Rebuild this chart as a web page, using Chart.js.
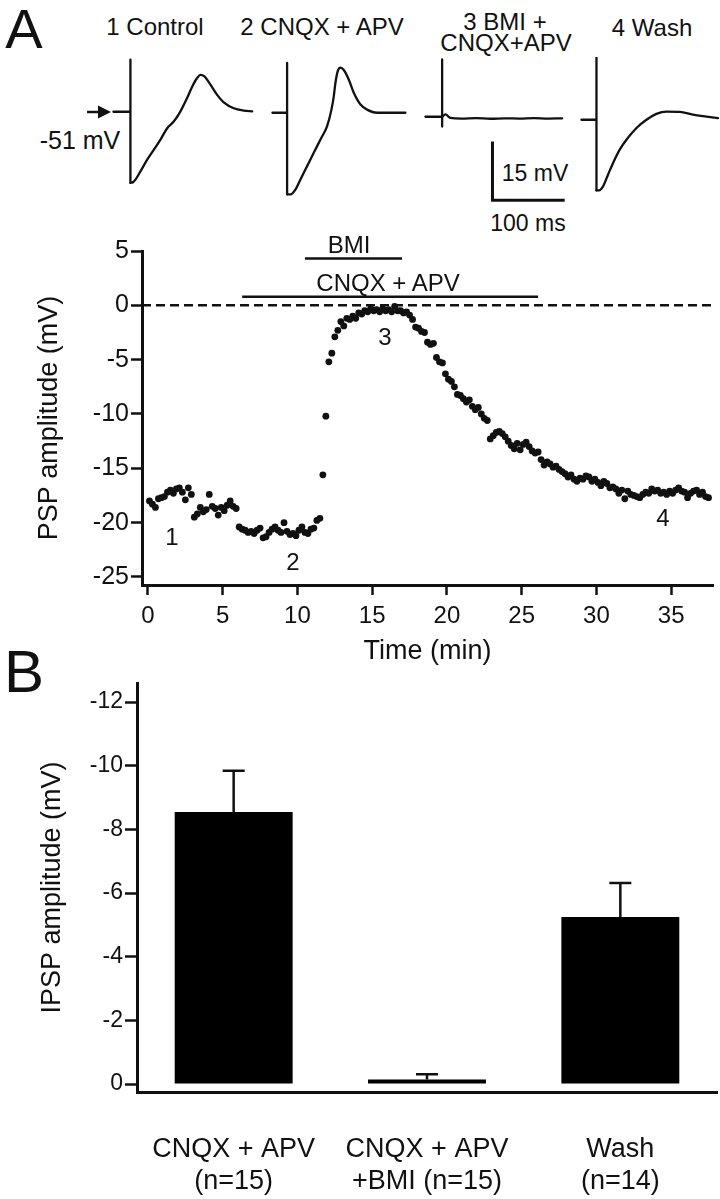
<!DOCTYPE html>
<html>
<head>
<meta charset="utf-8">
<script src="https://cdn.jsdelivr.net/npm/chart.js@4.4.0/dist/chart.umd.min.js"></script>
<style>
  html, body { margin: 0; padding: 0; background: #fff; }
  #fig { position: relative; width: 720px; height: 1199px; overflow: hidden; background: #fff;
         font-family: "Liberation Sans", Arial, Helvetica, sans-serif; color: #111; }
  #fig canvas, #fig svg { position: absolute; }
  .t { position: absolute; transform: translate(-50%, -50%); line-height: 1; white-space: nowrap; }
</style>
</head>
<body>
<div id="fig">
  <div class="t" style="left:24px;top:29px;font-size:56px">A</div>
  <div class="t" style="left:155px;top:27px;font-size:24px">1 Control</div>
  <div class="t" style="left:322px;top:27px;font-size:24px">2 CNQX + APV</div>
  <div class="t" style="left:505px;top:22px;font-size:24px">3 BMI +</div>
  <div class="t" style="left:506px;top:43px;font-size:24px">CNQX+APV</div>
  <div class="t" style="left:652px;top:28px;font-size:24px">4 Wash</div>
  <div class="t" style="left:80px;top:140px;font-size:25px">-51 mV</div>
  <div class="t" style="left:535px;top:173px;font-size:23px">15 mV</div>
  <div class="t" style="left:528px;top:223px;font-size:23px">100 ms</div>

  <svg style="left:85px;top:104px" width="28" height="16">
    <line x1="2" y1="8" x2="16" y2="8" stroke="#111" stroke-width="2.5"/>
    <polygon points="13,1.5 26,8 13,14.5" fill="#111"/>
  </svg>

  <canvas id="tr1" width="143" height="153" style="left:112px;top:49px"></canvas>
  <canvas id="tr2" width="143" height="153" style="left:271px;top:50px"></canvas>
  <canvas id="tr3" width="143" height="153" style="left:424px;top:54px"></canvas>
  <canvas id="tr4" width="143" height="153" style="left:580px;top:57px"></canvas>

  <canvas id="psp" width="720" height="440" style="left:0;top:230px"></canvas>
  <div class="t" style="left:349px;top:245px;font-size:24px">BMI</div>
  <div class="t" style="left:388px;top:283px;font-size:24px">CNQX + APV</div>
  <div class="t" style="left:172px;top:537px;font-size:24px">1</div>
  <div class="t" style="left:293px;top:562px;font-size:24px">2</div>
  <div class="t" style="left:385px;top:337px;font-size:24px">3</div>
  <div class="t" style="left:663px;top:518px;font-size:24px">4</div>

  <div class="t" style="left:24px;top:672px;font-size:60px">B</div>
  <canvas id="ipsp" width="720" height="539" style="left:0;top:660px"></canvas>
</div>

<script>
// ---- example traces (ms after sweep start, mV relative to -51 mV) ----
const traceMsRange = [-2, 196];
const traceMvRange = [-23, 16];

const stim1 = 23.5, spike1 = [13.3, -18.1];
const trace1Ms = [23.5, 26.7, 30.5, 37.4, 46.7, 55.8, 65.1, 74.4, 83.5, 92.8, 102.0, 109.0, 115.9, 120.5, 126.0, 134.3, 143.6, 152.7, 166.6, 180.4, 192.1];
const trace1Mv = [-18.1, -18.0, -17.3, -15.2, -12.2, -9.7, -7.1, -4.2, -2.5, 0.1, 3.5, 6.4, 8.6, 9.4, 9.0, 6.9, 4.3, 2.4, 0.9, 0.3, 0.1];

const stim2 = 20.3, spike2 = [12.7, -20.8];
const trace2Ms = [20.3, 24.9, 31.8, 38.8, 48.0, 57.2, 66.5, 75.7, 81.7, 84.9, 87.2, 90.4, 94.2, 98.8, 105.6, 112.6, 121.9, 131.1, 145.0, 184.1];
const trace2Mv = [-20.8, -20.8, -19.6, -17.0, -13.6, -10.2, -6.8, -3.4, 0.8, 4.2, 7.6, 10.6, 11.5, 10.9, 8.5, 5.1, 2.1, 0.8, 0, 0];

const stim3 = 23.1, spike3 = [14.6, -2.5];
const trace3Ms = [23.1, 27.7, 34.6, 50, 70, 90, 110, 130, 150, 170, 189.3];
const trace3Mv = [0, 0.6, -0.3, -0.45, -0.35, -0.5, -0.4, -0.45, -0.35, -0.45, -0.4];

const stim4 = 20.8, spike4 = [16.1, -18.0];
const trace4Ms = [20.8, 24.4, 29.9, 36.8, 43.8, 53.0, 62.3, 76.2, 90.0, 103.8, 117.7, 136.2, 154.5, 173.1, 189.1];
const trace4Mv = [-18.0, -18.0, -17.0, -14.0, -11.0, -7.6, -5.1, -2.1, 0, 1.5, 2.1, 2.0, 1.3, 0.8, 0.4];

const scaleBarMs = 100, scaleBarMv = 15;
const scaleBarCorner = [92.8, -21.3];

// ---- PSP amplitude time course ----
const pspTime = [
  0.1, 0.3, 0.5, 0.7, 0.9, 1.1, 1.3, 1.5, 1.7, 1.9,
  2.1, 2.3, 2.5, 2.7, 2.9, 3.1, 3.3, 3.5, 3.7, 3.9,
  4.1, 4.3, 4.5, 4.7, 4.9, 5.1, 5.3, 5.5, 5.7, 5.9,
  6.1, 6.3, 6.5, 6.7, 6.9, 7.1, 7.3, 7.5, 7.7, 7.9,
  8.1, 8.3, 8.5, 8.7, 8.9, 9.1, 9.3, 9.5, 9.7, 9.9,
  10.1, 10.3, 10.5, 10.7, 10.9, 11.1, 11.3, 11.5, 11.7, 11.9,
  12.1, 12.3, 12.5, 12.7, 12.9, 13.1, 13.3, 13.5, 13.7, 13.9,
  14.1, 14.3, 14.5, 14.7, 14.9, 15.1, 15.3, 15.5, 15.7, 15.9,
  16.1, 16.3, 16.5, 16.7, 16.9, 17.1, 17.3, 17.5, 17.7, 17.9,
  18.1, 18.3, 18.5, 18.7, 18.9, 19.1, 19.3, 19.5, 19.7, 19.9,
  20.1, 20.3, 20.5, 20.7, 20.9, 21.1, 21.3, 21.5, 21.7, 21.9,
  22.1, 22.3, 22.5, 22.7, 22.9, 23.1, 23.3, 23.5, 23.7, 23.9,
  24.1, 24.3, 24.5, 24.7, 24.9, 25.1, 25.3, 25.5, 25.7, 25.9,
  26.1, 26.3, 26.5, 26.7, 26.9, 27.1, 27.3, 27.5, 27.7, 27.9,
  28.1, 28.3, 28.5, 28.7, 28.9, 29.1, 29.3, 29.5, 29.7, 29.9,
  30.1, 30.3, 30.5, 30.7, 30.9, 31.1, 31.3, 31.5, 31.7, 31.9,
  32.1, 32.3, 32.5, 32.7, 32.9, 33.1, 33.3, 33.5, 33.7, 33.9,
  34.1, 34.3, 34.5, 34.7, 34.9, 35.1, 35.3, 35.5, 35.7, 35.9,
  36.1, 36.3, 36.5, 36.7, 36.9, 37.1, 37.3, 37.5
];
const pspAmp = [
  -18.0, -18.3, -18.6, -17.8, -17.7, -17.6, -17.2, -17.0, -17.3, -16.9,
  -16.8, -17.2, -17.9, -16.8, -17.4, -19.5, -19.2, -18.6, -19.0, -18.8,
  -17.4, -18.5, -18.7, -19.3, -18.6, -18.9, -18.4, -18.0, -18.5, -18.7,
  -20.4, -20.6, -20.7, -20.9, -20.8, -21.0, -20.7, -20.5, -21.4, -21.3,
  -20.9, -20.6, -20.4, -20.7, -20.9, -20.0, -20.8, -21.1, -21.0, -21.2,
  -20.7, -20.4, -20.9, -21.0, -20.6, -20.5, -19.8, -19.6, -15.6, -10.2,
  -5.2, -4.4, -2.9, -2.3, -1.5, -1.9, -1.2, -1.3, -1.0, -1.2,
  -0.7, -0.8, -0.5, -0.6, -0.3, -0.5, -0.4, -0.6, -0.3, -0.5,
  -0.4, -0.6, -0.1, -0.5, -0.5, -0.7, -0.6, -0.9, -1.3, -2.0,
  -2.1, -2.4, -2.5, -3.4, -3.6, -3.5, -4.8, -5.2, -5.3, -6.3,
  -6.8, -7.0, -7.5, -8.2, -8.3, -8.6, -8.9, -8.7, -9.3, -9.6,
  -9.4, -10.0, -10.4, -10.6, -12.3, -12.0, -11.7, -11.6, -11.8, -12.1,
  -12.5, -12.9, -13.2, -12.7, -13.3, -12.8, -12.6, -13.0, -13.4, -13.6,
  -13.5, -14.2, -14.7, -14.4, -14.6, -14.9, -14.8, -15.1, -15.3, -15.5,
  -15.8, -15.6, -16.0, -16.2, -15.9, -16.0, -15.7, -15.8, -16.2, -16.0,
  -16.3, -16.6, -16.2, -16.4, -16.8, -16.7, -16.9, -17.3, -17.0, -17.8,
  -17.1, -17.4, -17.5, -17.6, -17.7, -17.4, -17.2, -17.3, -16.9, -17.1,
  -17.0, -17.3, -17.2, -17.4, -17.1, -17.3, -17.0, -16.8, -17.1, -17.2,
  -17.7, -17.3, -17.1, -17.0, -17.4, -17.2, -17.6, -17.7
];
const timeTicks = [0, 5, 10, 15, 20, 25, 30, 35];
const pspTicks = [5, 0, -5, -10, -15, -20, -25];
const timeRange = [-0.4, 37.8];
const pspRange = [-25.74, 5];
const bmiSpan = [10.5, 17.0], bmiLevel = 4.3;
const cnqxSpan = [6.3, 26.1], cnqxLevel = 0.8;

// ---- panel B ----
const ipspLabels = [['CNQX + APV', '(n=15)'], ['CNQX + APV', '+BMI (n=15)'], ['Wash', '(n=14)']];
const ipspMean = [-8.55, -0.14, -5.25];
const ipspSem = [1.29, 0.17, 1.07];
const ipspTicks = [0, -2, -4, -6, -8, -10, -12];
const ipspRange = [-12.6, 0.25];

Chart.defaults.font.family = '"Liberation Sans", Arial, Helvetica, sans-serif';
Chart.defaults.color = '#111';

const ink = '#111';
function pairs(xs, ys) { return xs.map((x, i) => ({ x: x, y: ys[i] })); }

function traceChart(id, stim, spike, ms, mv, extra) {
  const sets = [
    { data: pairs([0, stim, stim, stim], [0, 0, spike[0], spike[1]]), tension: 0 },
    { data: pairs(ms, mv), cubicInterpolationMode: 'monotone' }
  ].concat(extra || []);
  return new Chart(document.getElementById(id), {
    type: 'line',
    data: { datasets: sets },
    options: {
      responsive: false,
      animation: false,
      events: [],
      layout: { padding: 0 },
      plugins: { legend: { display: false }, tooltip: { enabled: false } },
      scales: {
        x: { type: 'linear', min: traceMsRange[0], max: traceMsRange[1], display: false },
        y: { min: traceMvRange[0], max: traceMvRange[1], display: false }
      },
      elements: {
        point: { radius: 0 },
        line: { borderColor: ink, borderWidth: 2.3, fill: false, borderJoinStyle: 'round', borderCapStyle: 'round' }
      }
    }
  });
}

traceChart('tr1', stim1, spike1, trace1Ms, trace1Mv);
traceChart('tr2', stim2, spike2, trace2Ms, trace2Mv);
traceChart('tr3', stim3, spike3, trace3Ms, trace3Mv, [{
  data: pairs([scaleBarCorner[0], scaleBarCorner[0], scaleBarCorner[0] + scaleBarMs],
              [scaleBarCorner[1] + scaleBarMv, scaleBarCorner[1], scaleBarCorner[1]]),
  tension: 0, borderWidth: 3, borderJoinStyle: 'miter', borderCapStyle: 'butt'
}]);
traceChart('tr4', stim4, spike4, trace4Ms, trace4Mv);

// time course
new Chart(document.getElementById('psp'), {
  type: 'scatter',
  data: {
    datasets: [
      { data: pairs(pspTime, pspAmp), pointRadius: 3.4, pointBackgroundColor: ink, pointBorderWidth: 0 },
      { data: pairs(timeRange, [0, 0]), showLine: true, pointRadius: 0, borderColor: ink, borderWidth: 2.5, borderDash: [9, 5] },
      { data: pairs(bmiSpan, [bmiLevel, bmiLevel]), showLine: true, pointRadius: 0, borderColor: ink, borderWidth: 2.5 },
      { data: pairs(cnqxSpan, [cnqxLevel, cnqxLevel]), showLine: true, pointRadius: 0, borderColor: ink, borderWidth: 2.5 }
    ]
  },
  options: {
    responsive: false,
    animation: false,
    events: [],
    layout: { padding: { top: 21, right: 7, bottom: 0, left: 0 } },
    plugins: { legend: { display: false }, tooltip: { enabled: false } },
    scales: {
      x: {
        type: 'linear', min: timeRange[0], max: timeRange[1],
        afterBuildTicks: s => { s.ticks = timeTicks.map(v => ({ value: v })); },
        afterFit: s => { s.height = 85; },
        grid: { drawOnChartArea: false, drawTicks: true, tickLength: 10, tickWidth: 2.5, tickColor: ink },
        border: { display: true, color: ink, width: 3 },
        ticks: { color: ink, font: { size: 24 }, padding: 7, maxRotation: 0, autoSkip: false, callback: v => String(v) },
        title: { display: true, text: 'Time (min)', color: ink, font: { size: 27 }, padding: { top: 0, bottom: 2 } }
      },
      y: {
        min: pspRange[0], max: pspRange[1],
        afterBuildTicks: s => { s.ticks = pspTicks.map(v => ({ value: v })); },
        afterFit: s => { s.width = 142; },
        grid: { drawOnChartArea: false, drawTicks: true, tickLength: 11, tickWidth: 2.5, tickColor: ink },
        border: { display: true, color: ink, width: 3 },
        ticks: { color: ink, font: { size: 25 }, padding: 2, autoSkip: false, callback: v => String(v) },
        title: { display: true, text: 'PSP amplitude (mV)', color: ink, font: { size: 27 }, padding: { top: 33, bottom: 0 } }
      }
    }
  }
});

// error bars for panel B
const errorBars = {
  id: 'errorBars',
  afterDatasetsDraw(chart) {
    const ctx = chart.ctx;
    const y = chart.scales.y;
    const bars = chart.getDatasetMeta(0).data;
    ctx.save();
    ctx.strokeStyle = ink;
    ctx.lineWidth = 2.5;
    bars.forEach((bar, i) => {
      const y0 = y.getPixelForValue(ipspMean[i]);
      const y1 = y.getPixelForValue(ipspMean[i] - ipspSem[i]);
      ctx.beginPath();
      ctx.moveTo(bar.x, y0);
      ctx.lineTo(bar.x, y1);
      ctx.moveTo(bar.x - 11, y1);
      ctx.lineTo(bar.x + 11, y1);
      ctx.stroke();
    });
    ctx.restore();
  }
};

new Chart(document.getElementById('ipsp'), {
  type: 'bar',
  data: {
    labels: ipspLabels,
    datasets: [{ data: ipspMean, backgroundColor: '#000', borderWidth: 0, barPercentage: 0.61, categoryPercentage: 1 }]
  },
  options: {
    responsive: false,
    animation: false,
    events: [],
    layout: { padding: { top: 23, right: 3, bottom: 0, left: 0 } },
    plugins: { legend: { display: false }, tooltip: { enabled: false } },
    scales: {
      x: {
        afterFit: s => { s.height = 107; },
        grid: { display: true, drawOnChartArea: false, drawTicks: false },
        border: { display: true, color: ink, width: 3 },
        ticks: { color: ink, font: { size: 27, lineHeight: 1.2 }, padding: 41, maxRotation: 0, autoSkip: false }
      },
      y: {
        reverse: true, min: ipspRange[0], max: ipspRange[1],
        afterBuildTicks: s => { s.ticks = ipspTicks.map(v => ({ value: v })); },
        afterFit: s => { s.width = 137; },
        grid: { drawOnChartArea: false, drawTicks: true, tickLength: 12, tickWidth: 2.5, tickColor: ink },
        border: { display: true, color: ink, width: 3 },
        ticks: { color: ink, font: { size: 23 }, padding: 2, autoSkip: false, callback: v => String(v) },
        title: { display: true, text: 'IPSP amplitude (mV)', color: ink, font: { size: 27 }, padding: { top: 36, bottom: 0 } }
      }
    }
  },
  plugins: [errorBars]
});
</script>
</body>
</html>
